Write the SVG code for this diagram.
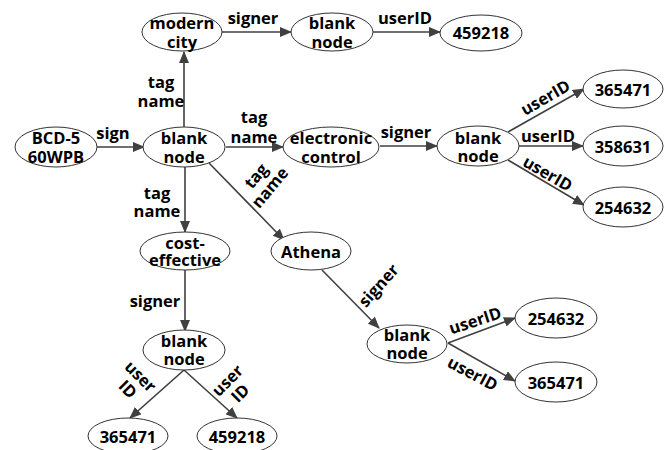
<svg xmlns="http://www.w3.org/2000/svg" width="672" height="450" viewBox="0 0 672 450">
<style>
.n ellipse{fill:#fff;stroke:#333;stroke-width:1}
text{font-family:"Open Sans","Liberation Sans",sans-serif;font-weight:bold;font-size:16.5px;fill:#000;text-anchor:middle;dominant-baseline:central}
#edges line{stroke:#404040;stroke-width:1.6;marker-end:url(#ah)}
</style>
<defs>
<marker id="ah" markerUnits="userSpaceOnUse" markerWidth="12" markerHeight="10" refX="11" refY="5" orient="auto">
<path d="M0,0 L12,5 L0,10 z" fill="#404040"/>
</marker>
</defs>
<g id="edges">
<line x1="97" y1="147" x2="144" y2="147"/>
<line x1="184" y1="127" x2="184" y2="52"/>
<line x1="222" y1="32" x2="291" y2="32"/>
<line x1="373" y1="32" x2="440" y2="32"/>
<line x1="226" y1="147" x2="283" y2="147"/>
<line x1="380" y1="146" x2="437" y2="146"/>
<line x1="508" y1="132" x2="584" y2="89"/>
<line x1="519" y1="146" x2="583" y2="146"/>
<line x1="508" y1="160" x2="584" y2="205"/>
<line x1="209" y1="163" x2="284" y2="240"/>
<line x1="185" y1="167" x2="185" y2="232"/>
<line x1="322" y1="270" x2="379" y2="328"/>
<line x1="448" y1="343" x2="515" y2="318"/>
<line x1="448" y1="343" x2="515" y2="381"/>
<line x1="185" y1="270" x2="185" y2="331"/>
<line x1="184" y1="370" x2="130" y2="418"/>
<line x1="184" y1="370" x2="237" y2="418"/>
</g>
<g id="edge-labels">
<text x="113" y="132">sign</text>
<text x="253" y="17">signer</text>
<text x="405" y="17">userID</text>
<text x="161" y="81">tag</text>
<text x="161" y="100">name</text>
<text x="254" y="116">tag</text>
<text x="254" y="136">name</text>
<text x="406" y="131">signer</text>
<text x="545" y="97" transform="rotate(-30 545 97)">userID</text>
<text x="548" y="135">userID</text>
<text x="548" y="173" transform="rotate(30 548 173)">userID</text>
<text transform="translate(262,181) rotate(-50)"><tspan x="0" y="-9">tag</tspan><tspan x="0" y="9">name</tspan></text>
<text x="378" y="285" transform="rotate(-48 378 285)">signer</text>
<text x="475" y="320" transform="rotate(-18 475 320)">userID</text>
<text x="473" y="373" transform="rotate(28 473 373)">userID</text>
<text x="157" y="192">tag</text>
<text x="157" y="210">name</text>
<text x="155" y="300">signer</text>
<text transform="translate(135,382) rotate(45)"><tspan x="0" y="-9">user</tspan><tspan x="0" y="9">ID</tspan></text>
<text transform="translate(233,386) rotate(-45)"><tspan x="0" y="-9">user</tspan><tspan x="0" y="9">ID</tspan></text>
</g>
<g id="bcd" class="n"><ellipse cx="56" cy="147" rx="41" ry="20"/><text x="56" y="137">BCD-5</text><text x="56" y="156">60WPB</text></g>
<g id="blank-center" class="n"><ellipse cx="184" cy="147" rx="41" ry="20"/><text x="184" y="137">blank</text><text x="184" y="156">node</text></g>
<g id="modern-city" class="n"><ellipse cx="182" cy="32" rx="40" ry="19"/><text x="182" y="22">modern</text><text x="182" y="41">city</text></g>
<g id="blank-top" class="n"><ellipse cx="332" cy="32" rx="41" ry="19"/><text x="332" y="22">blank</text><text x="332" y="41">node</text></g>
<g id="id-459218-top" class="n"><ellipse cx="481" cy="33" rx="41" ry="18"/><text x="481" y="32">459218</text></g>
<g id="electronic-control" class="n"><ellipse cx="331" cy="147" rx="48" ry="20"/><text x="331" y="137">electronic</text><text x="331" y="156">control</text></g>
<g id="blank-right" class="n"><ellipse cx="478" cy="146" rx="41" ry="20"/><text x="478" y="137">blank</text><text x="478" y="155">node</text></g>
<g id="id-365471-r" class="n"><ellipse cx="623" cy="89" rx="40" ry="19"/><text x="623" y="89">365471</text></g>
<g id="id-358631-r" class="n"><ellipse cx="623" cy="146" rx="40" ry="20"/><text x="623" y="146">358631</text></g>
<g id="id-254632-r" class="n"><ellipse cx="623" cy="207" rx="40" ry="20"/><text x="623" y="207">254632</text></g>
<g id="athena" class="n"><ellipse cx="311" cy="251" rx="40" ry="19"/><text x="311" y="251">Athena</text></g>
<g id="blank-lr" class="n"><ellipse cx="407" cy="344" rx="40" ry="19"/><text x="407" y="334">blank</text><text x="407" y="352">node</text></g>
<g id="id-254632-lr" class="n"><ellipse cx="556" cy="318" rx="41" ry="20"/><text x="556" y="318">254632</text></g>
<g id="id-365471-lr" class="n"><ellipse cx="556" cy="382" rx="41" ry="20"/><text x="556" y="382">365471</text></g>
<g id="cost-effective" class="n"><ellipse cx="185" cy="251" rx="45" ry="19"/><text x="185" y="242">cost-</text><text x="185" y="259">effective</text></g>
<g id="blank-ll" class="n"><ellipse cx="184" cy="350" rx="41" ry="20"/><text x="184" y="340">blank</text><text x="184" y="358">node</text></g>
<g id="id-365471-b" class="n"><ellipse cx="128" cy="436" rx="40" ry="18"/><text x="128" y="436">365471</text></g>
<g id="id-459218-b" class="n"><ellipse cx="237" cy="436" rx="40" ry="18"/><text x="237" y="436">459218</text></g>
</svg>
